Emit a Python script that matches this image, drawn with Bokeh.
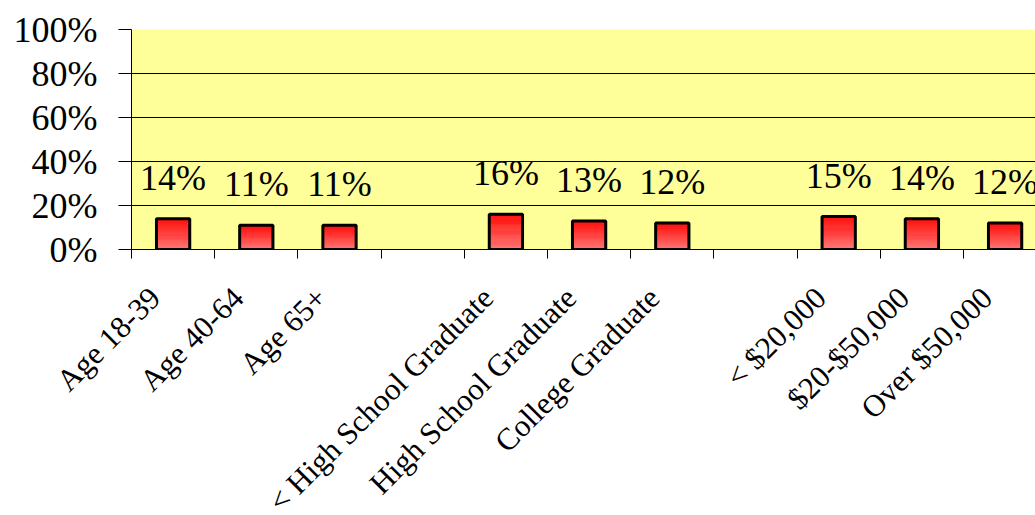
import math
from bokeh.plotting import figure
from bokeh.models import ColumnDataSource, FixedTicker, Range1d
from bokeh.embed import file_html
from bokeh.resources import INLINE
from bokeh.core.properties import value

categories = ["Age 18-39", "Age 40-64", "Age 65+", "",
              "< High School Graduate", "High School Graduate", "College Graduate", "",
              "< $20,000", "$20-$50,000", "Over $50,000"]
percent = [14, 11, 11, None, 16, 13, 12, None, 15, 14, 12]
y_ticks = [0, 20, 40, 60, 80, 100]
y_tick_labels = ["0%", "20%", "40%", "60%", "80%", "100%"]

FONT = "Liberation Serif"
SLOT_PX = 83.2
FRAME_W = 904

idx = [i for i, v in enumerate(percent) if v is not None]
bx = [i + 0.5 for i in idx]
bv = [percent[i] for i in idx]
blab = [f"{percent[i]}%" for i in idx]

p = figure(frame_width=FRAME_W, frame_height=220, output_backend="svg", toolbar_location=None,
           x_range=Range1d(0, FRAME_W / SLOT_PX), y_range=Range1d(0, 100),
           min_border_left=131, min_border_top=29, min_border_right=0, min_border_bottom=0)
p.background_fill_color = "#FFFF99"
p.border_fill_color = "white"
p.outline_line_color = None

# gradient bars: stacked strips from light (bottom) to red (top)
N = 32
light = (255, 118, 118)
dark = (255, 8, 8)
BW = 0.40
for k in range(N):
    t = (k + 0.5) / N
    col = tuple(int(round(light[j] + (dark[j] - light[j]) * t)) for j in range(3))
    src = ColumnDataSource(dict(x=bx,
                                bottom=[v * k / N for v in bv],
                                top=[v * (k + 1) / N for v in bv]))
    p.vbar(x="x", bottom="bottom", top="top", width=BW, source=src,
           fill_color="#%02x%02x%02x" % col, line_color="#%02x%02x%02x" % col,
           line_width=0.6)
p.vbar(x=bx, top=bv, bottom=0, width=BW, fill_color=None,
       line_color="black", line_width=3)

p.text(x=bx, y=bv, text=blab, text_align="center", text_baseline="alphabetic",
       y_offset=-41, text_font=value(FONT), text_font_size="36px", text_color="black")

# grid
p.xgrid.visible = False
p.ygrid.ticker = FixedTicker(ticks=y_ticks[1:])
p.ygrid.grid_line_color = "black"
p.ygrid.grid_line_width = 1

# y axis
ya = p.yaxis[0]
ya.ticker = FixedTicker(ticks=y_ticks)
ya.major_label_overrides = {t: l for t, l in zip(y_ticks, y_tick_labels)}
ya.major_label_text_font = FONT
ya.major_label_text_font_size = "36px"
ya.major_label_text_color = "black"
ya.major_tick_out = 13
ya.major_tick_in = 0
ya.minor_tick_line_color = None
ya.major_label_standoff = 21
ya.axis_line_color = "black"
ya.axis_line_width = 1

# x axis
shift = 0.21875
label_pos = [i + 0.5 - shift for i in range(len(categories))]
xa = p.xaxis[0]
xa.ticker = FixedTicker(ticks=label_pos, minor_ticks=list(range(len(categories) + 1)))
xa.major_label_overrides = {t: c for t, c in zip(label_pos, categories)}
xa.major_label_orientation = math.pi / 4
xa.major_label_text_font = FONT
xa.major_label_text_font_size = "31px"
xa.major_label_text_color = "black"
xa.major_tick_line_color = None
xa.major_tick_out = 0
xa.major_tick_in = 0
xa.minor_tick_out = 9
xa.minor_tick_in = 0
xa.minor_tick_line_color = "black"
xa.major_label_standoff = 34
xa.axis_line_color = "black"

open("out.html", "w").write(file_html(p, INLINE))
